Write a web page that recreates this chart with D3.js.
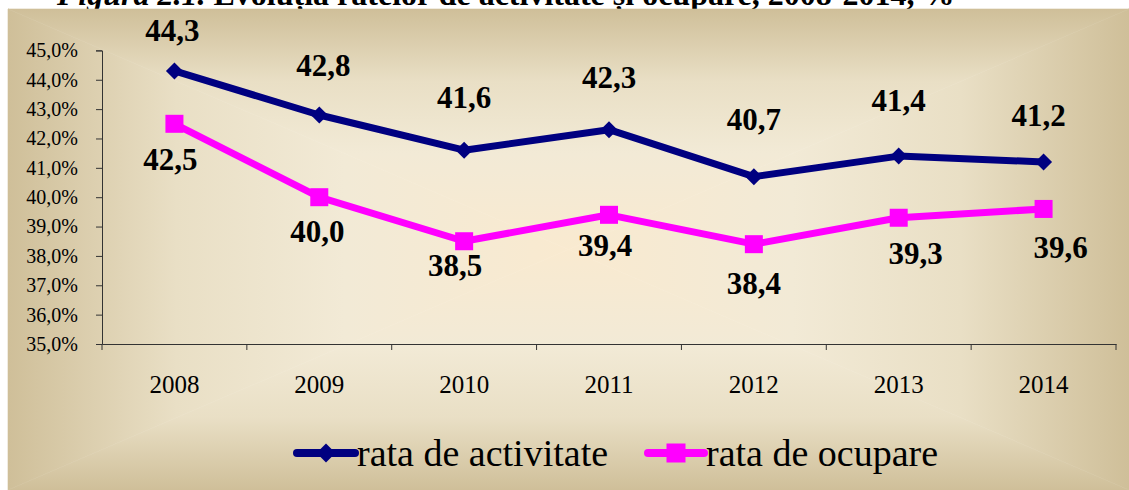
<!DOCTYPE html>
<html>
<head>
<meta charset="utf-8">
<script src="https://cdn.jsdelivr.net/npm/d3@7"></script>
<style>
  html, body { margin: 0; padding: 0; background: #ffffff; }
  svg { display: block; }
  text { font-family: "Liberation Serif", "Times New Roman", "DejaVu Serif", serif; fill: #000; }
</style>
</head>
<body>
<svg id="chart" width="1129" height="490"></svg>
<script>
// ---- data ----
const years = ["2008", "2009", "2010", "2011", "2012", "2013", "2014"];
const rataActivitate = [44.3, 42.8, 41.6, 42.3, 40.7, 41.4, 41.2];
const rataOcupare = [42.5, 40.0, 38.5, 39.4, 38.4, 39.3, 39.6];
const yTicks = [35, 36, 37, 38, 39, 40, 41, 42, 43, 44, 45];
const seriesNames = ["rata de activitate", "rata de ocupare"];
const titleText = ["Figura 2.1.", " Evoluția ratelor de activitate și ocupare, 2008-2014, %"];

// ---- label placement (layout, px offsets from each point) ----
const actLabelOffsets = [[-2, -41], [4, -50], [0, -53], [0, -53], [0, -57], [0, -56], [-5, -47]];
const ocuLabelOffsets = [[-4, 35], [-2, 34], [-9, 24], [-4, 30], [0, 39], [17, 35], [17, 38]];

const svg = d3.select("#chart");
const W = 1129, H = 490;

// title (clipped by chart background)
const title = svg.append("text")
  .attr("x", 57).attr("y", 5)
  .style("font-size", "32px").style("font-weight", "bold");
title.append("tspan").style("font-style", "italic").text(titleText[0]);
title.append("tspan").text(titleText[1]);

// background: rectangular gradient from center via 4 triangles
const bx0 = 8, by0 = 9, bx1 = W, by1 = H;
const cx = (bx0 + bx1) / 2, cy = (by0 + by1) / 2;
const defs = svg.append("defs");
const stops = [[0, "#cfbf99"], [0.3, "#e9dfc5"], [0.6, "#f2ead6"], [1, "#f9ead0"]];
function grad(id, x1, y1, x2, y2) {
  const g = defs.append("linearGradient").attr("id", id)
    .attr("gradientUnits", "userSpaceOnUse")
    .attr("x1", x1).attr("y1", y1).attr("x2", x2).attr("y2", y2);
  stops.forEach(s => g.append("stop").attr("offset", s[0]).attr("stop-color", s[1]));
}
grad("gL", bx0, 0, cx, 0);
grad("gR", bx1, 0, cx, 0);
grad("gT", 0, by0, 0, cy);
grad("gB", 0, by1, 0, cy);
const tri = [
  ["gL", [[bx0, by0], [cx, cy], [bx0, by1]]],
  ["gR", [[bx1, by0], [cx, cy], [bx1, by1]]],
  ["gT", [[bx0, by0], [cx, cy], [bx1, by0]]],
  ["gB", [[bx0, by1], [cx, cy], [bx1, by1]]]
];
tri.forEach(t => {
  svg.append("polygon")
    .attr("points", t[1].map(p => p.join(",")).join(" "))
    .attr("fill", `url(#${t[0]})`)
    .attr("stroke", `url(#${t[0]})`).attr("stroke-width", 0.6);
});

// ---- scales ----
const plot = { left: 102, right: 1116, top: 50.4, bottom: 344 };
const x = d3.scaleBand().domain(years).range([plot.left, plot.right]).paddingInner(0).paddingOuter(0);
const y = d3.scaleLinear().domain([35, 45]).range([plot.bottom, plot.top]);
const xc = d => x(d) + x.bandwidth() / 2;

// y axis
const yAxis = svg.append("g").attr("transform", `translate(${plot.left},0)`)
  .call(d3.axisLeft(y).tickValues(yTicks).tickSize(6).tickPadding(18)
    .tickFormat(d => d.toFixed(1).replace(".", ",") + "%"));
yAxis.selectAll("text").style("font-size", "20px").attr("fill", "#000");
yAxis.selectAll("line, path").attr("stroke", "#333");

// x axis with ticks at category boundaries
const xAxis = svg.append("g").attr("transform", `translate(0,${plot.bottom})`)
  .call(d3.axisBottom(x).tickSize(0).tickPadding(31));
xAxis.selectAll("text").style("font-size", "25px").attr("fill", "#000");
xAxis.select("path").attr("stroke", "#333");
const bounds = years.map(d => x(d)).concat([plot.right]);
xAxis.selectAll(".bt").data(bounds).enter().append("line")
  .attr("x1", d => d).attr("x2", d => d).attr("y1", 0).attr("y2", 6)
  .attr("stroke", "#333");

// ---- series ----
const series = [
  { name: seriesNames[0], values: rataActivitate, color: "#000080", marker: "diamond", offs: actLabelOffsets },
  { name: seriesNames[1], values: rataOcupare, color: "#ff00ff", marker: "square", offs: ocuLabelOffsets }
];
const line = d3.line().x((d, i) => xc(years[i])).y(d => y(d));

function drawMarker(g, type, px, py, color, s) {
  if (type === "diamond") {
    g.append("path")
      .attr("d", `M${px},${py - s / 2}L${px + s / 2},${py}L${px},${py + s / 2}L${px - s / 2},${py}Z`)
      .attr("fill", color);
  } else {
    g.append("rect").attr("x", px - s / 2).attr("y", py - s / 2)
      .attr("width", s).attr("height", s).attr("fill", color);
  }
}

series.forEach(s => {
  const g = svg.append("g");
  g.append("path").datum(s.values).attr("d", line)
    .attr("fill", "none").attr("stroke", s.color).attr("stroke-width", 7)
    .attr("stroke-linejoin", "round");
  s.values.forEach((v, i) => {
    drawMarker(g, s.marker, xc(years[i]), y(v), s.color, s.marker === "diamond" ? 17 : 18);
  });
  g.selectAll("text.lbl").data(s.values).enter().append("text")
    .attr("class", "lbl")
    .attr("x", (v, i) => xc(years[i]) + s.offs[i][0])
    .attr("y", (v, i) => y(v) + s.offs[i][1])
    .attr("text-anchor", "middle").attr("dy", "0.35em")
    .style("font-size", "31px").style("font-weight", "bold")
    .text(v => v.toFixed(1).replace(".", ","));
});

// ---- legend ----
const legendItems = [
  { x1: 297, x2: 355, tx: 357 },
  { x1: 648, x2: 704, tx: 706 }
];
const ly = 453;
series.forEach((s, i) => {
  const L = legendItems[i];
  const g = svg.append("g");
  g.append("line").attr("x1", L.x1).attr("x2", L.x2).attr("y1", ly).attr("y2", ly)
    .attr("stroke", s.color).attr("stroke-width", 8).attr("stroke-linecap", "round");
  drawMarker(g, s.marker, (L.x1 + L.x2) / 2, ly, s.color, 19);
  g.append("text").attr("x", L.tx).attr("y", 466)
    .style("font-size", "38px").text(s.name);
});
</script>
</body>
</html>
